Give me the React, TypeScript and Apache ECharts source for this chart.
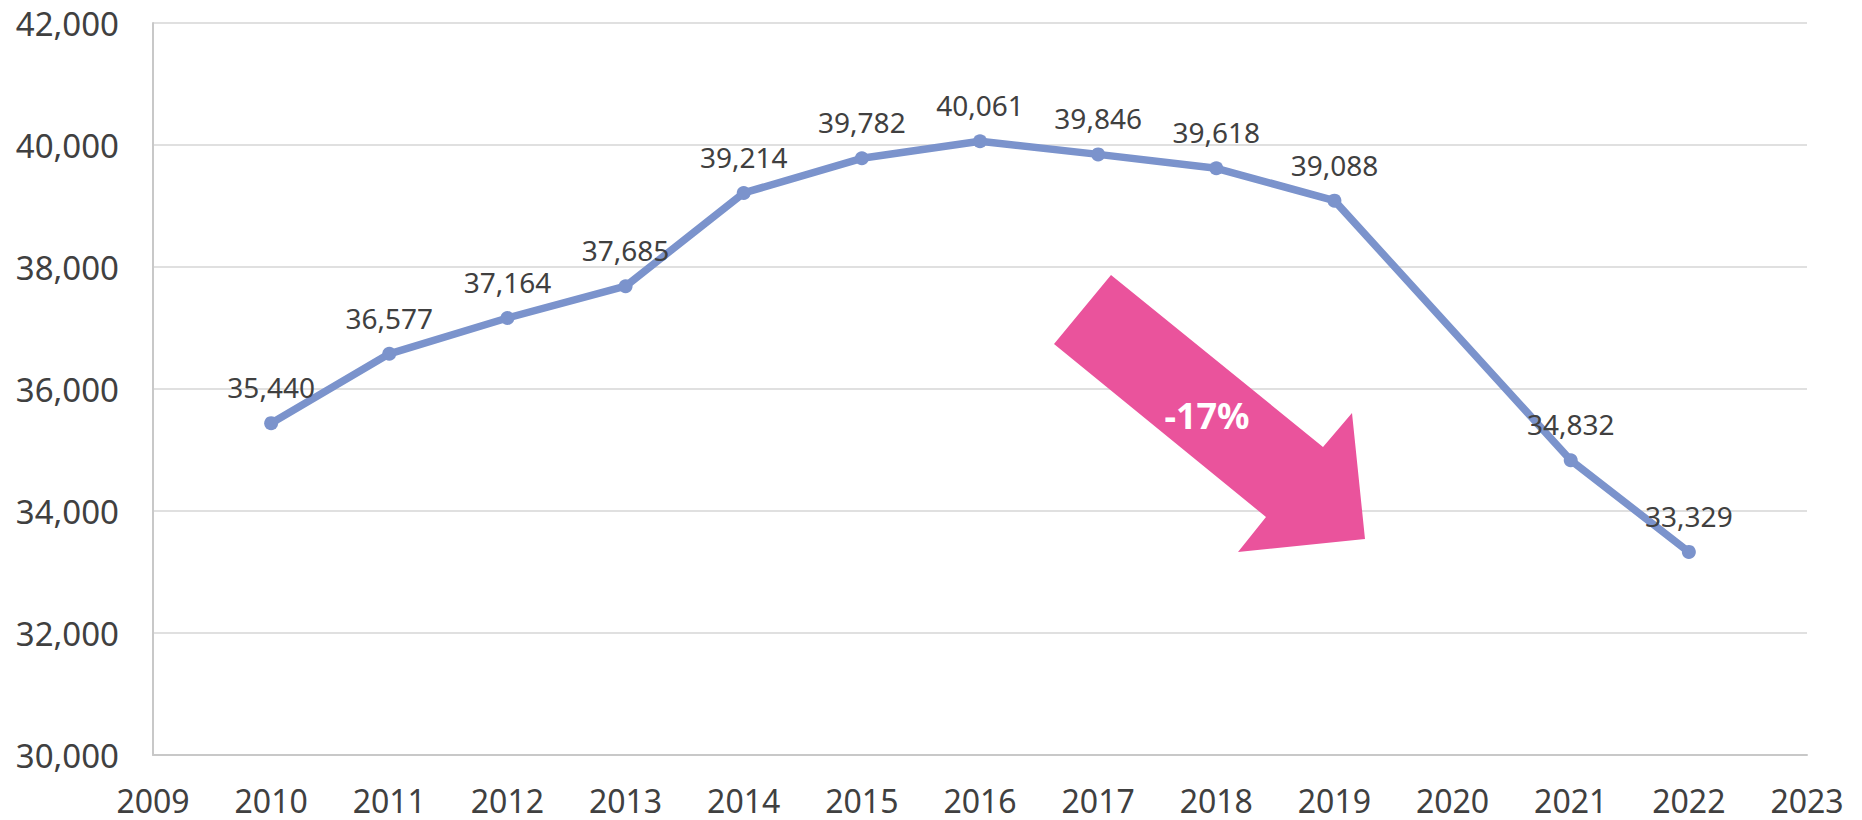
import React, { useEffect, useRef } from "react";
import * as echarts from "echarts";

const years = [2010, 2011, 2012, 2013, 2014, 2015, 2016, 2017, 2018, 2019, 2020, 2021, 2022];
const values: (number | null)[] = [35440, 36577, 37164, 37685, 39214, 39782, 40061, 39846, 39618, 39088, null, 34832, 33329];
const annotationText = "-17%";

export default function App() {
  const ref = useRef<HTMLDivElement>(null);
  useEffect(() => {
    document.body.style.margin = "0";
    const chart = echarts.init(ref.current!, undefined, { renderer: "svg" });
    const font = "Noto Sans";
    const textColor = "#404040";
    const data = years.map((y, i) => [y, values[i]]);
    chart.setOption({
      animation: false,
      backgroundColor: "#ffffff",
      grid: { left: 153, right: 55, top: 23, bottom: 65 },
      xAxis: {
        type: "value",
        min: 2009,
        max: 2023,
        interval: 1,
        axisLine: { show: true, lineStyle: { color: "#c8c8c8", width: 2 } },
        axisTick: { show: false },
        splitLine: { show: false },
        axisLabel: {
          color: textColor,
          fontFamily: font,
          fontSize: 32,
          margin: 29,
          formatter: (v: number) => String(v),
        },
      },
      yAxis: {
        type: "value",
        min: 30000,
        max: 42000,
        interval: 2000,
        axisLine: { show: true, lineStyle: { color: "#c8c8c8", width: 2 } },
        axisTick: { show: false },
        splitLine: { show: true, lineStyle: { color: "#e0e0e0", width: 2 } },
        axisLabel: {
          color: textColor,
          fontFamily: font,
          fontSize: 33,
          margin: 34,
          formatter: (v: number) => v.toLocaleString("en-US"),
        },
      },
      series: [
        {
          type: "line",
          data,
          connectNulls: true,
          symbol: "circle",
          symbolSize: 14,
          itemStyle: { color: "#7b93cc" },
          lineStyle: { color: "#7b93cc", width: 7.5 },
          label: {
            show: true,
            position: "top",
            distance: 15,
            color: textColor,
            fontFamily: font,
            fontSize: 28,
            formatter: (p: any) => (p.value[1] == null ? "" : Number(p.value[1]).toLocaleString("en-US")),
          },
        },
      ],
      graphic: [
        {
          type: "polygon",
          shape: {
            points: [
              [1111, 275],
              [1323, 447],
              [1352, 413],
              [1365, 539],
              [1238, 552],
              [1266, 517],
              [1054, 344],
            ],
          },
          style: { fill: "#ea539c" },
          z: 10,
        },
        {
          type: "text",
          x: 1207,
          y: 415,
          style: {
            text: annotationText,
            fill: "#ffffff",
            font: `bold 36px "${font}"`,
            textAlign: "center",
            textVerticalAlign: "middle",
          },
          z: 11,
        },
      ],
    });
    return () => chart.dispose();
  }, []);
  return <div ref={ref} style={{ width: 1862, height: 820 }} />;
}
